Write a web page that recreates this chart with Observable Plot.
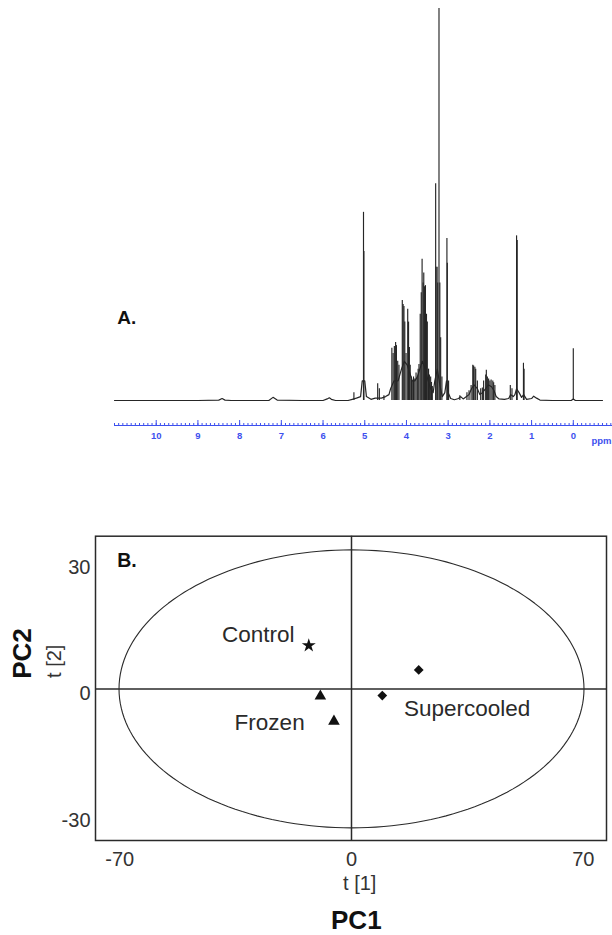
<!DOCTYPE html>
<html>
<head>
<meta charset="utf-8">
<script src="https://cdn.jsdelivr.net/npm/d3@7"></script>
<script src="https://cdn.jsdelivr.net/npm/@observablehq/plot@0.6"></script>
<style>
  body { margin: 0; background: #fff; }
  #chart svg { display: block; }
</style>
</head>
<body>
<div id="chart"></div>
<script>
// ---- Panel A: 1H NMR spectrum (chemical shift in ppm, relative intensity, tallest = 100) ----
const peakPpm = [5.26, 5.03, 5.02, 4.69, 4.65, 4.54, 4.35, 4.32, 4.29, 4.26, 4.24, 4.21, 4.18,
  4.10, 4.08, 4.06, 4.04, 4.01, 3.97, 3.95, 3.93, 3.91, 3.88, 3.85, 3.83, 3.80, 3.77, 3.74, 3.72,
  3.70, 3.67, 3.645, 3.625, 3.60, 3.585, 3.565, 3.545, 3.52, 3.50, 3.47, 3.45, 3.42, 3.40, 3.38,
  3.30, 3.29, 3.265, 3.25, 3.22, 3.20, 3.18, 3.15, 3.03, 3.02, 2.99, 2.72, 2.55, 2.50, 2.45,
  2.41, 2.39, 2.36, 2.34, 2.30, 2.22, 2.18, 2.15, 2.10, 2.085, 2.06, 2.03, 2.00, 1.97, 1.93,
  1.91, 1.88, 1.51, 1.47, 1.36, 1.345, 1.195, 1.18, 0.00];
const peakIntensity = [2.0, 48, 38, 4.3, 3.0, 1.2, 13.3, 12, 13.8, 14.8, 14, 10, 9,
  25.5, 24.5, 24, 20, 12, 23.3, 20, 13.5, 9, 6, 5, 6, 5.5, 7, 6, 8,
  9.2, 22, 27.5, 36, 30, 32.5, 29, 29.3, 22, 20, 8, 6.5, 6, 4.6, 3.6,
  55.3, 34, 34, 30, 100, 30, 16, 6, 41.3, 35, 5, 1.2, 2, 2.5, 3.8,
  9, 8.8, 8.5, 8, 5, 3, 3.2, 5, 6.5, 7.7, 6, 5.5, 5, 5.2, 5,
  4.5, 3.8, 3.8, 3.0, 42, 40.8, 9.5, 8, 13.2];

// Baseline and broad underlying envelope of the spectrum
const tracePpm = [11.0, 9.0, 8.5, 8.42, 8.35, 8.2, 7.3, 7.2, 7.1, 6.5, 6.0, 5.9, 5.85, 5.8, 5.7,
  5.4, 5.3, 5.2, 5.1, 5.06, 5.0, 4.96, 4.85, 4.75, 4.6, 4.5, 4.42, 4.38, 4.3, 4.2, 4.12, 4.05,
  3.98, 3.92, 3.86, 3.80, 3.74, 3.68, 3.62, 3.55, 3.48, 3.42, 3.36, 3.32, 3.26, 3.2, 3.14, 3.08,
  3.04, 3.0, 2.94, 2.85, 2.75, 2.7, 2.64, 2.56, 2.5, 2.44, 2.38, 2.3, 2.24, 2.18, 2.1, 2.04,
  1.96, 1.9, 1.85, 1.78, 1.65, 1.55, 1.5, 1.44, 1.4, 1.36, 1.3, 1.24, 1.19, 1.12, 1.0, 0.95,
  0.88, 0.8, 0.5, 0.05, 0.0, -0.05, -0.7];
const traceIntensity = [0, 0, 0.1, 0.5, 0.1, 0, 0, 0.8, 0.1, 0, 0, 0.4, 0.7, 0.3, 0,
  0, 0.3, 0.6, 1, 5, 5, 1, 0.3, 0.6, 0.6, 1, 1.5, 3, 5, 5, 8, 10,
  9, 7, 5, 5, 6, 8, 10, 8, 5, 3, 2, 5, 8, 4, 1, 2,
  5, 2, 0.5, 0.2, 0.5, 1, 0.4, 1, 1.5, 3, 4, 3, 1.5, 2, 3, 4,
  3.5, 2.5, 1, 0.4, 0.3, 0.5, 1.5, 1, 1.5, 3, 2, 0.8, 1.5, 0.3, 0.5, 1.1,
  0.6, 0.1, 0, 0, 0.4, 0, 0];

const ppmTicks = [10, 9, 8, 7, 6, 5, 4, 3, 2, 1, 0];
const ppmMinorTicks = d3.range(-9, 111).map(i => i / 10);

// ---- Panel B: PCA score plot ----
const control = [{pc1: -12.9, pc2: 10.3}];
const frozen = [{pc1: -9.4, pc2: -1.75}, {pc1: -5.3, pc2: -7.7}];
const supercooled = [{pc1: 9.3, pc2: -1.6}, {pc1: 20.3, pc2: 4.5}];
const pc1Ticks = [-70, 0, 70];
const pc2Ticks = [-30, 0, 30];
const t2Limits = [70.2, 33.0]; // Hotelling T2 ellipse semi-axes (PC1, PC2)

const FONT = "'Liberation Sans', Arial, Helvetica, sans-serif";
const BLUE = "#3d50ee";
const INK = "#2a2a2a";
const plain = d => String(d); // keep the ASCII hyphen for negative ticks

const peaks = peakPpm.map((ppm, i) => ({ppm, intensity: peakIntensity[i]}));
const trace = tracePpm.map((ppm, i) => ({ppm, intensity: traceIntensity[i]}));

const spectrum = Plot.plot({
  width: 612,
  height: 460,
  marginTop: 8,
  marginBottom: 35,
  marginLeft: 114,
  marginRight: 0,
  style: {fontFamily: FONT, background: "#fff", overflow: "hidden"},
  x: {domain: [11, -0.94]},
  y: {domain: [-6.38, 100], axis: null},
  marks: [
    Plot.frame({anchor: "bottom", stroke: BLUE, strokeWidth: 1}),
    Plot.axisX({ticks: ppmMinorTicks, tickSize: -2, tickFormat: () => "", stroke: BLUE, label: null}),
    Plot.axisX({ticks: ppmTicks, tickSize: -5, tickPadding: 11.5, tickFormat: plain, stroke: BLUE, fill: BLUE,
      fontSize: 9.5, fontWeight: "bold", label: null}),
    Plot.text(["ppm"], {text: d => d, frameAnchor: "bottom-right", textAnchor: "end", dx: -1,
      dy: 15, lineAnchor: "middle", fill: BLUE, fontSize: 9.5, fontWeight: "bold"}),
    Plot.line(trace, {x: "ppm", y: "intensity", stroke: "#262626", strokeWidth: 1.2}),
    Plot.ruleX(peaks, {x: "ppm", y1: 0, y2: "intensity", stroke: "#262626", strokeWidth: 1.15}),
    Plot.text(["A."], {text: d => d, frameAnchor: "top-left", textAnchor: "start", dx: 2.7,
      dy: 309, lineAnchor: "middle", fontSize: 19, fontWeight: "bold", fill: "#111"})
  ]
});

const ellipse = d3.range(0, 361, 2).map(deg => {
  const a = deg * Math.PI / 180;
  return {pc1: t2Limits[0] * Math.cos(a), pc2: t2Limits[1] * Math.sin(a)};
});

const labelStyle = {fontSize: 22.5, fill: INK, lineAnchor: "middle"};

const scorePlot = Plot.plot({
  width: 612,
  height: 475,
  marginTop: 75.7,
  marginBottom: 95,
  marginLeft: 95,
  marginRight: 6,
  style: {fontFamily: FONT, background: "#fff"},
  x: {domain: [-77.3, 77.0]},
  y: {domain: [-36.0, 36.25]},
  marks: [
    Plot.line(ellipse, {x: "pc1", y: "pc2", stroke: INK, strokeWidth: 1.1}),
    Plot.ruleX([0], {stroke: INK, strokeWidth: 1.5}),
    Plot.ruleY([0], {stroke: INK, strokeWidth: 1.5}),
    Plot.frame({stroke: INK, strokeWidth: 1.5}),
    Plot.axisX({ticks: pc1Ticks, tickSize: 0, tickPadding: 11, tickFormat: plain, fontSize: 20, fill: "#333", label: null}),
    Plot.axisY({ticks: pc2Ticks, tickSize: 0, tickPadding: 5, tickFormat: plain, fontSize: 20, fill: "#333", dy: 5, label: null}),
    Plot.dot(control, {x: "pc1", y: "pc2", symbol: "star", r: 4.4, fill: "#111", stroke: "none"}),
    Plot.dot(frozen, {x: "pc1", y: "pc2", symbol: "triangle", r: 4.3, fill: "#111", stroke: "none"}),
    Plot.dot(supercooled, {x: "pc1", y: "pc2", symbol: "diamond2", r: 4.4, fill: "#111", stroke: "none"}),
    Plot.text([control[0]], {x: "pc1", y: "pc2", text: () => "Control", textAnchor: "end", dx: -14.3, dy: -11, ...labelStyle}),
    Plot.text([frozen[1]], {x: "pc1", y: "pc2", text: () => "Frozen", textAnchor: "end", dx: -29.3, dy: 1, ...labelStyle}),
    Plot.text([supercooled[0]], {x: "pc1", y: "pc2", text: () => "Supercooled", textAnchor: "start", dx: 21.6, dy: 13.3, ...labelStyle}),
    Plot.text(["B."], {text: d => d, frameAnchor: "top-left", textAnchor: "start", dx: 21.7, dy: 24.5,
      lineAnchor: "middle", fontSize: 19.5, fontWeight: "bold", fill: "#111"}),
    Plot.text(["t [1]"], {text: d => d, frameAnchor: "bottom", dx: 8.7, dy: 43, lineAnchor: "middle", fontSize: 20, fill: "#333"}),
    Plot.text(["PC1"], {text: d => d, frameAnchor: "bottom", dx: 5.3, dy: 80, lineAnchor: "middle", fontSize: 26, fontWeight: "bold", fill: "#111"}),
    Plot.text(["t [2]"], {text: d => d, frameAnchor: "left", rotate: -90, dx: -41, dy: -10.4, lineAnchor: "middle", fontSize: 20, fill: "#333"}),
    Plot.text(["PC2"], {text: d => d, frameAnchor: "left", rotate: -90, dx: -73.3, dy: -9.5, lineAnchor: "middle", fontSize: 26, fontWeight: "bold", fill: "#111"})
  ]
});

const chart = document.getElementById("chart");
chart.append(spectrum, scorePlot);
</script>
</body>
</html>
